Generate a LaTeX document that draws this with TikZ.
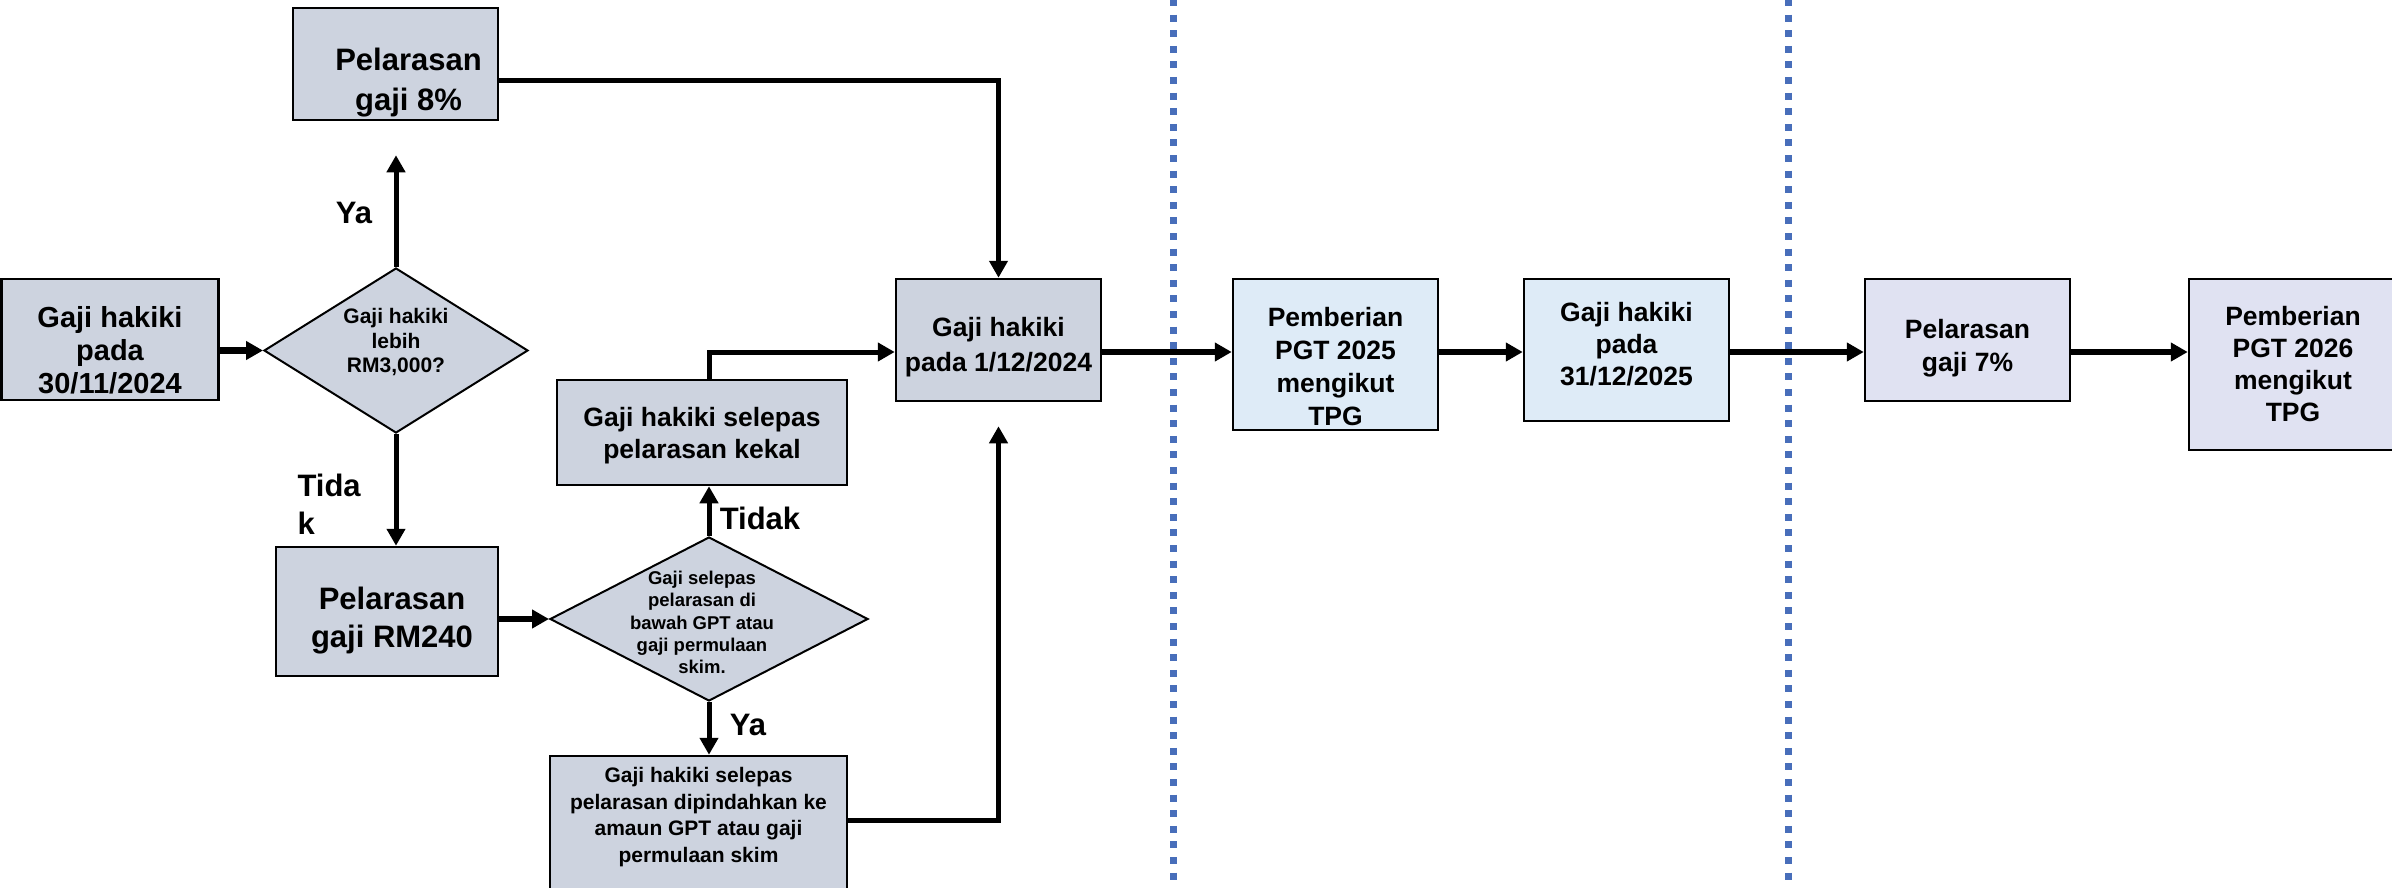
\documentclass[tikz,border=0pt]{standalone}
\usepackage{fontspec}
\setmainfont{Liberation Sans}
\usetikzlibrary{arrows.meta,shapes.geometric}
\definecolor{boxgrey}{RGB}{205,211,223}
\definecolor{boxblue}{RGB}{222,235,247}
\definecolor{boxlilac}{RGB}{224,226,242}
\definecolor{sepblue}{RGB}{72,110,186}

\begin{document}
\begin{tikzpicture}[
  x=1pt, y=-1pt, % pixel grid, y grows downward
  >={Triangle[length=17pt,width=18pt]}, % style of the arrow tips
  box/.style={draw, line width=2.5pt, fill=#1, inner sep=0pt}, % process boxes
  ask/.style={diamond, draw, line width=2pt, fill=boxgrey, inner sep=0pt}, % decisions
  txt/.style 2 args={align=center, font=\fontsize{#1}{#2}\selectfont\bfseries},
  link/.style={->, line width=5pt},
  flow/.style={->, line width=6.5pt},
  sep/.style={sepblue, line width=7pt, dash pattern=on 7pt off 8.6pt, dash phase=1pt}
  ]
  \useasboundingbox (0,0) rectangle (2392,888);
  \clip (0,0) rectangle (2392,888);

  \coordinate (axis) at (0,352);

  % left part: adjustment on 1/12/2024
  \node[box=boxgrey, minimum width=217pt, minimum height=121pt,
    label={[txt={29}{33}, yshift=-10.5pt]center:{Gaji hakiki\\pada\\30/11/2024}}] (start) at (110,339.5) {};
  \node[ask, minimum width=264pt, minimum height=165pt,
    label={[txt={21}{24.5}, yshift=8pt]center:{Gaji hakiki\\lebih\\RM3,000?}}] (q1) at (396,350.5) {};
  \node[box=boxgrey, minimum width=205pt, minimum height=112pt,
    label={[txt={31}{40}, xshift=13pt, yshift=-19pt]center:{Pelarasan\\gaji 8\%}}] (adj8) at (395.5,64) {};
  \node[box=boxgrey, minimum width=222pt, minimum height=129pt,
    label={[txt={31}{38}, xshift=5pt, yshift=-9.5pt]center:{Pelarasan\\gaji RM240}}] (adj240) at (387,611.5) {};
  \node[ask, minimum width=318pt, minimum height=164pt,
    label={[txt={18.5}{22.4}, xshift=-7pt, yshift=-3.5pt]center:{Gaji selepas\\pelarasan di\\bawah GPT atau\\gaji permulaan\\skim.}}] (q2) at (709,619) {};
  \node[box=boxgrey, minimum width=290pt, minimum height=105pt,
    label={[txt={26.5}{32}, yshift=-3.5pt]center:{Gaji hakiki selepas\\pelarasan kekal}}] (keep) at (702,432.5) {};
  \node[box=boxgrey, minimum width=297pt, minimum height=140pt,
    label={[txt={21}{26.7}, yshift=9pt]center:{Gaji hakiki selepas\\pelarasan dipindahkan ke\\amaun GPT atau gaji\\permulaan skim}}] (move) at (698.5,826) {};
  \node[box=boxgrey, minimum width=205pt, minimum height=122pt,
    label={[txt={26.5}{35}, yshift=-7.5pt]center:{Gaji hakiki\\pada 1/12/2024}}] (dec) at (998.5,340) {};

  % right part: 2025 and 2026
  \node[box=boxblue, minimum width=205pt, minimum height=151pt,
    label={[txt={26.5}{33}, yshift=-12pt]center:{Pemberian\\PGT 2025\\mengikut\\TPG}}] (pgt25) at (1335.5,354.5) {};
  \node[box=boxblue, minimum width=205pt, minimum height=142pt,
    label={[txt={26.5}{32}, yshift=5.5pt]center:{Gaji hakiki\\pada\\31/12/2025}}] (dec25) at (1626.5,350) {};
  \node[box=boxlilac, minimum width=205pt, minimum height=122pt,
    label={[txt={26.5}{33}, yshift=-8.5pt]center:{Pelarasan\\gaji 7\%}}] (adj7) at (1967.5,340) {};
  \node[box=boxlilac, minimum width=208pt, minimum height=171pt,
    label={[txt={26.5}{32}]center:{Pemberian\\PGT 2026\\mengikut\\TPG}}] (pgt26) at (2293,364.5) {};

  % answers
  \node[txt={31}{38}] (yes1) at (354,213) {Ya};
  \node[txt={31}{38}, align=left, anchor=west] (no1) at (294,504) {Tida\\k};
  \node[txt={31}{38}] (no2) at (760,518) {Tidak};
  \node[txt={31}{38}] (yes2) at (748,725) {Ya};

  \coordinate (yesend) at ([yshift=-34pt]adj8.south);
  \coordinate (retend) at ([yshift=-24pt]dec.south);

  \draw[flow] (start.east |- q1.west) -- (q1.west);
  \draw[link] (q1.north) -- (q1.north |- yesend);
  \draw[link] (q1.south) -- (q1.south |- adj240.north);
  \draw[flow] (adj240.east |- q2.west) -- (q2.west);
  \draw[link] (q2.north) -- (q2.north |- keep.south);
  \draw[link] (q2.south) -- (q2.south |- move.north);
  \draw[link] (keep.north -| q2.north) |- (dec.west |- axis);
  \draw[link] ([yshift=-17pt]adj8.east) -| (dec.north);
  \draw[link] ([yshift=6pt]move.east) -| (retend);

  \draw[flow] (dec.east |- axis) -- (pgt25.west |- axis);
  \draw[flow] (pgt25.east |- axis) -- (dec25.west |- axis);
  \draw[flow] (dec25.east |- axis) -- (adj7.west |- axis);
  \draw[flow] (adj7.east |- axis) -- (pgt26.west |- axis);

  % year separators
  \draw[sep] (1173.5,0) -- (1173.5,888);
  \draw[sep] (1788,0) -- (1788,888);
\end{tikzpicture}
\end{document}
